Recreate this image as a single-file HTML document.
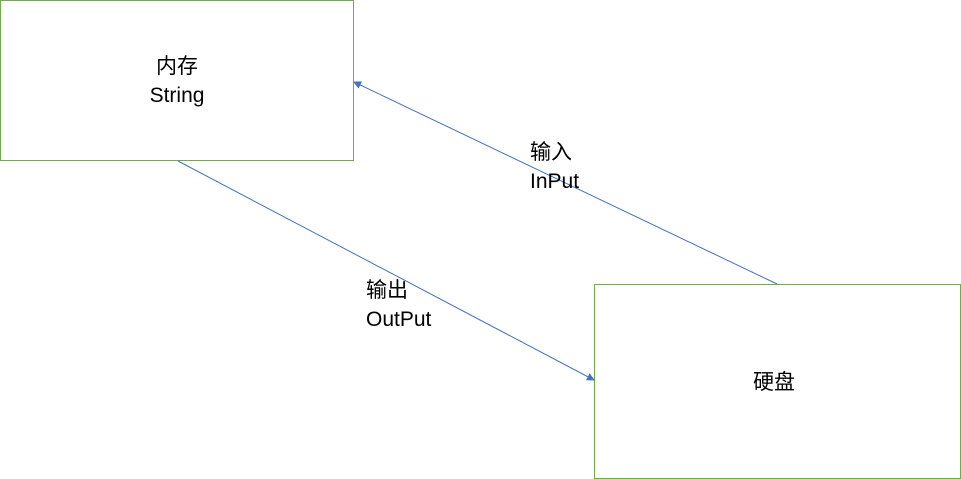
<!DOCTYPE html>
<html><head><meta charset="utf-8"><style>
html,body{margin:0;padding:0;background:#fff;}
body{width:961px;height:479px;position:relative;overflow:hidden;font-family:"Liberation Sans","Noto Sans CJK SC",sans-serif;}
.box{position:absolute;border:1px solid #70ad47;box-sizing:border-box;}
.t{position:absolute;font-size:21px;color:#000;line-height:29px;}
</style></head><body>
<div class="box" style="left:0;top:0;width:354px;height:161px;"></div>
<div class="box" style="left:594px;top:284px;width:367px;height:195px;"></div>
<svg width="961" height="479" style="position:absolute;left:0;top:0">
<defs><marker id="a" markerWidth="8" markerHeight="8" refX="7" refY="4" orient="auto" markerUnits="userSpaceOnUse"><path d="M0,0 L8,4 L0,8 z" fill="#4472c4"/></marker></defs>
<line x1="178" y1="161" x2="594" y2="380" stroke="#4472c4" stroke-width="1" marker-end="url(#a)"/>
<line x1="777" y1="284" x2="354" y2="82" stroke="#4472c4" stroke-width="1" marker-end="url(#a)"/>
</svg>
<div class="t" style="left:147px;top:52px;text-align:center;width:60px;">内存<br>String</div>
<div class="t" style="left:753px;top:368px;">硬盘</div>
<div class="t" style="left:530px;top:138px;">输入<br>InPut</div>
<div class="t" style="left:366px;top:276px;">输出<br>OutPut</div>
</body></html>
